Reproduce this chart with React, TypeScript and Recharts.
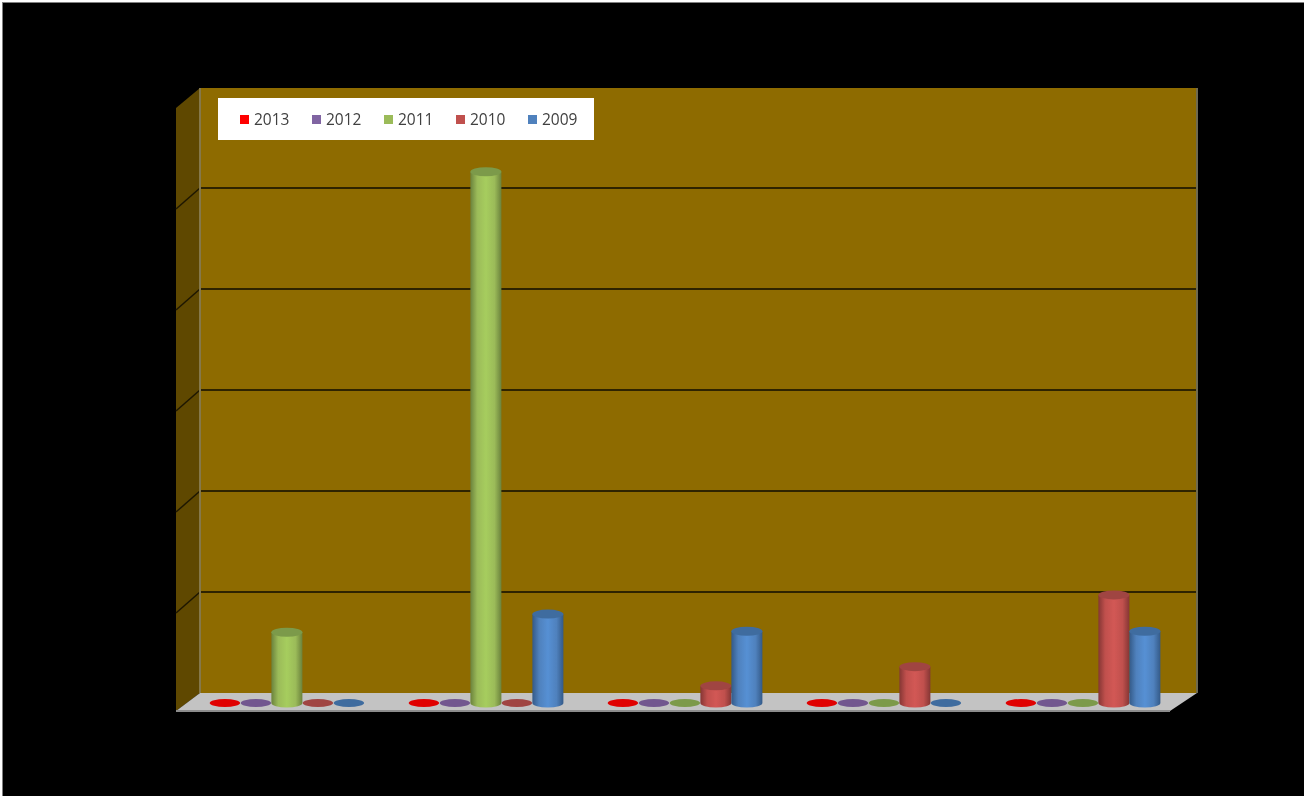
import React from 'react';
import { BarChart, Bar, XAxis, YAxis, Legend, Customized, usePlotArea } from 'recharts';

const categories = ['A', 'B', 'C', 'D', 'E'];
const values2013 = [0, 0, 0, 0, 0];
const values2012 = [0, 0, 0, 0, 0];
const values2011 = [0.7, 5.26, 0, 0, 0];
const values2010 = [0, 0, 0.17, 0.36, 1.07];
const values2009 = [0, 0.88, 0.71, 0, 0.71];
const yTicks = [1, 2, 3, 4, 5, 6];

const tableData = categories.map((name, i) => ({
  name,
  s2013: values2013[i],
  s2012: values2012[i],
  s2011: values2011[i],
  s2010: values2010[i],
  s2009: values2009[i],
}));

const SERIES = [
  { key: 's2013', label: '2013', base: '#ff0000', light: '#ff1a1a', dark: '#b00000', top: '#e00000' },
  { key: 's2012', label: '2012', base: '#8064a2', light: '#8a6dae', dark: '#59456f', top: '#72578f' },
  { key: 's2011', label: '2011', base: '#9bbb59', light: '#a6cd5e', dark: '#6b823c', top: '#7c9a4a' },
  { key: 's2010', label: '2010', base: '#c0504d', light: '#d25855', dark: '#853634', top: '#a04542' },
  { key: 's2009', label: '2009', base: '#4f81bd', light: '#5690d4', dark: '#345a88', top: '#3f6c9f' },
];

const Y_MAX = 6;

// back wall, side wall and floor sit behind the bars
function Walls() {
  const plot = usePlotArea();
  if (!plot) return null;
  const base = plot.y + plot.height;
  const left = plot.x + 12.5;
  const right = plot.x + plot.width + 14.5;
  const backBase = base - 10;
  const rowH = plot.height / Y_MAX;
  const wallTop = backBase - 6 * rowH + 1;
  return (
    <g>
      <polygon points={`${left - 24},${wallTop + 20} ${left},${wallTop} ${left},${backBase} ${left - 24},${base + 8}`} fill="#5f4800" />
      <rect x={left} y={wallTop} width={right - left} height={backBase - wallTop} fill="#8e6b00" />
      {yTicks.slice(0, 5).map(t => {
        const y = backBase - t * rowH;
        return (
          <g key={t}>
            <line x1={left} x2={right} y1={y} y2={y} stroke="#2e2300" strokeWidth={2} />
            <line x1={left - 24} x2={left} y1={y + 21} y2={y} stroke="#1e1700" strokeWidth={1.5} />
          </g>
        );
      })}
      <line x1={left} x2={left} y1={wallTop} y2={backBase} stroke="#85784a" strokeWidth={2} />
      <line x1={right} x2={right} y1={wallTop} y2={backBase} stroke="#6f6a50" strokeWidth={2} />
      <polygon points={`${left},${backBase} ${right},${backBase} ${right - 27},${base + 8} ${left - 24},${base + 8}`} fill="#c3c3c3" />
      <line x1={left - 24} x2={right - 27} y1={base + 8} y2={base + 8} stroke="#8c8c8c" strokeWidth={2} />
      <defs>
        {SERIES.map(s => (
          <linearGradient key={s.key} id={`cyl-${s.key}`} x1="0" x2="1" y1="0" y2="0">
            <stop offset="0%" stopColor={s.dark} />
            <stop offset="22%" stopColor={s.base} />
            <stop offset="50%" stopColor={s.light} />
            <stop offset="78%" stopColor={s.base} />
            <stop offset="100%" stopColor={s.dark} />
          </linearGradient>
        ))}
      </defs>
    </g>
  );
}

function Cylinder(props: any) {
  const { x, y, width, height, seriesKey, top } = props;
  const rx = width / 2;
  const ry = 4.5;
  const cx = x + rx;
  if (!height) {
    return <ellipse cx={cx} cy={y} rx={rx * 0.98} ry={ry - 0.5} fill={top} />;
  }
  const bottom = y + height;
  return (
    <g>
      <path
        d={`M${x},${y} L${x},${bottom} A${rx},${ry} 0 0 0 ${x + width},${bottom} L${x + width},${y} Z`}
        fill={`url(#cyl-${seriesKey})`}
      />
      <ellipse cx={cx} cy={y} rx={rx} ry={ry} fill={top} />
    </g>
  );
}

function LegendBox() {
  return (
    <div
      style={{
        width: 376,
        height: 42,
        background: '#fff',
        position: 'relative',
        fontFamily: '"Open Sans", "Liberation Sans", sans-serif',
        fontSize: 15.5,
        color: '#404040',
      }}
    >
      {SERIES.map((s, i) => (
        <div key={s.key} style={{ position: 'absolute', left: 22 + i * 72, top: 12, display: 'flex', alignItems: 'center', height: 18 }}>
          <span style={{ width: 9, height: 9, background: s.base, marginRight: 5 }} />
          <span>{s.label}</span>
        </div>
      ))}
    </div>
  );
}

export default function App() {
  return (
    <div
      style={{
        position: 'absolute',
        left: 0,
        top: 0,
        width: 1304,
        height: 796,
        background: '#000',
        overflow: 'hidden',
      }}
    >
      <div
        style={{
          width: 1304,
          height: 796,
          filter: 'blur(0.6px)',
          boxShadow: 'inset 2px 2px 0 #fff, inset 3px 3px 0 #808080',
        }}
      >
        <BarChart
          width={1304}
          height={796}
          data={tableData}
          margin={{ top: 97, right: 121.5, bottom: 93, left: 187.5 }}
          barCategoryGap="11%"
          barGap={0}
        >
          <Customized component={<Walls />} />
          <XAxis dataKey="name" hide />
          <YAxis domain={[0, Y_MAX]} ticks={yTicks} hide />
          <Legend
            content={<LegendBox />}
            layout="horizontal"
            align="center"
            verticalAlign="middle"
            wrapperStyle={{ position: 'absolute', left: 218, top: 98, width: 376, height: 42 }}
          />
          {SERIES.map(s => (
            <Bar
              key={s.key}
              dataKey={s.key}
              name={s.label}
              fill={s.base}
              isAnimationActive={false}
              shape={(p: any) => <Cylinder {...p} seriesKey={s.key} top={s.top} />}
            />
          ))}
        </BarChart>
      </div>
    </div>
  );
}
